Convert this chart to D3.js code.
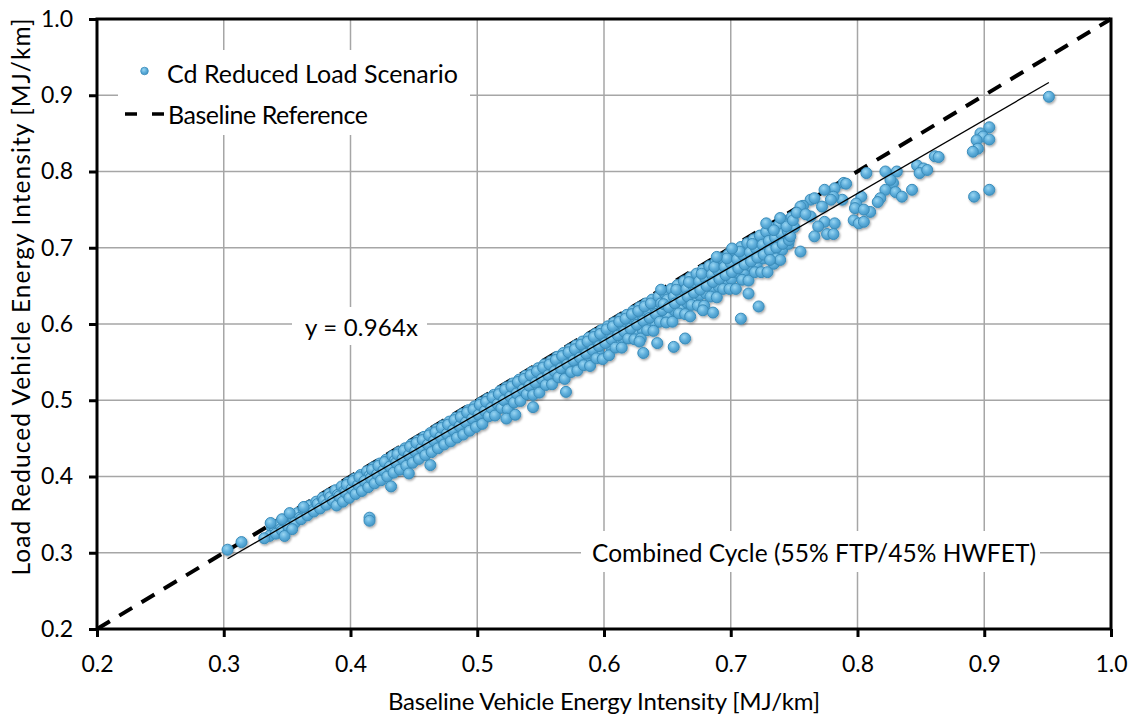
<!DOCTYPE html>
<html><head><meta charset="utf-8">
<script src="https://cdn.jsdelivr.net/npm/d3@7"></script>
<style>body{margin:0;background:#fff}</style>
</head><body>
<svg id="chart" width="1132" height="715"></svg>
<script>
// ---------- data ----------
const xTicks = [0.2,0.3,0.4,0.5,0.6,0.7,0.8,0.9,1.0];
const yTicks = [0.2,0.3,0.4,0.5,0.6,0.7,0.8,0.9,1.0];
const tickLabels = ["0.2","0.3","0.4","0.5","0.6","0.7","0.8","0.9","1.0"];
const fitSlope = 0.964;
const fitRange = [0.303, 0.951];
const baselineRef = [0.2, 1.0];
const seriesName = "Cd Reduced Load Scenario";
const refName = "Baseline Reference";
const fitLabel = "y = 0.964x";
const cycleLabel = "Combined Cycle (55% FTP/45% HWFET)";
const xTitle = "Baseline Vehicle Energy Intensity [MJ/km]";
const yTitle = "Load Reduced Vehicle Energy Intensity [MJ/km]";

// [baseline, reduced]
const bandLow = [
[0.338,0.333],[0.340,0.327],[0.336,0.322],
[0.343,0.337],[0.345,0.331],[0.341,0.325],
[0.348,0.342],[0.350,0.336],[0.346,0.329],
[0.353,0.347],[0.355,0.340],[0.351,0.334],
[0.358,0.352],[0.360,0.346],[0.356,0.339],
[0.363,0.357],[0.365,0.351],[0.361,0.344],[0.364,0.360],
[0.368,0.362],[0.370,0.356],[0.366,0.349],
[0.373,0.367],[0.375,0.361],[0.371,0.354],[0.374,0.364],
[0.378,0.372],[0.380,0.366],[0.376,0.358],[0.379,0.369],
[0.383,0.377],[0.385,0.371],[0.381,0.363],[0.384,0.373],
[0.388,0.382],[0.390,0.376],[0.386,0.368],[0.389,0.362],
[0.393,0.387],[0.395,0.381],[0.391,0.374],[0.394,0.367],
[0.398,0.392],[0.400,0.386],[0.396,0.379],[0.399,0.372],[0.397,0.389]
];
const bandMid = [
[0.403,0.397],[0.405,0.391],[0.401,0.384],[0.404,0.377],[0.402,0.394],
[0.408,0.402],[0.410,0.396],[0.406,0.389],[0.409,0.381],[0.407,0.399],
[0.413,0.407],[0.415,0.401],[0.411,0.394],[0.414,0.386],
[0.418,0.412],[0.420,0.406],[0.416,0.398],[0.419,0.391],[0.417,0.409],
[0.423,0.417],[0.425,0.411],[0.421,0.403],[0.424,0.395],[0.422,0.414],
[0.428,0.422],[0.430,0.416],[0.426,0.408],[0.429,0.400],[0.427,0.419],
[0.433,0.427],[0.435,0.421],[0.431,0.413],[0.434,0.405],
[0.438,0.432],[0.440,0.426],[0.436,0.418],[0.439,0.409],[0.437,0.429],
[0.443,0.437],[0.445,0.431],[0.441,0.423],[0.444,0.414],[0.442,0.434],
[0.448,0.442],[0.450,0.436],[0.446,0.428],[0.449,0.418],[0.447,0.439],
[0.453,0.447],[0.455,0.441],[0.451,0.433],[0.454,0.423],[0.452,0.444],
[0.458,0.452],[0.460,0.445],[0.456,0.437],[0.459,0.428],[0.457,0.448],
[0.463,0.457],[0.465,0.450],[0.461,0.442],[0.464,0.432],[0.462,0.454],
[0.468,0.462],[0.470,0.455],[0.466,0.447],[0.469,0.437],[0.467,0.458],
[0.473,0.467],[0.475,0.460],[0.471,0.452],[0.474,0.442],[0.472,0.464],
[0.478,0.472],[0.480,0.465],[0.476,0.456],[0.479,0.446],[0.477,0.468],
[0.483,0.477],[0.485,0.470],[0.481,0.461],[0.484,0.451],[0.482,0.474],
[0.488,0.482],[0.490,0.475],[0.486,0.466],[0.489,0.455],[0.487,0.478],
[0.493,0.487],[0.495,0.480],[0.491,0.471],[0.494,0.460],[0.492,0.484],
[0.498,0.492],[0.500,0.485],[0.496,0.476],[0.499,0.465],[0.497,0.488]
];
const bandUpper = [
[0.503,0.497],[0.505,0.490],[0.501,0.481],[0.504,0.469],[0.502,0.494],
[0.508,0.502],[0.510,0.495],[0.506,0.486],[0.509,0.479],[0.507,0.498],
[0.513,0.507],[0.515,0.500],[0.511,0.490],[0.514,0.480],[0.512,0.504],
[0.518,0.512],[0.520,0.505],[0.516,0.495],[0.519,0.490],[0.517,0.508],
[0.523,0.517],[0.525,0.510],[0.521,0.500],[0.524,0.488],[0.522,0.514],
[0.528,0.522],[0.530,0.515],[0.526,0.505],[0.529,0.497],[0.527,0.518],
[0.533,0.527],[0.535,0.520],[0.531,0.509],[0.534,0.499],[0.532,0.524],
[0.538,0.532],[0.540,0.524],[0.536,0.514],[0.539,0.508],[0.537,0.528],
[0.543,0.537],[0.545,0.529],[0.541,0.519],[0.544,0.507],[0.542,0.533],
[0.548,0.542],[0.550,0.534],[0.546,0.523],[0.549,0.510],[0.547,0.538],
[0.553,0.547],[0.555,0.539],[0.551,0.528],[0.554,0.520],[0.552,0.543],
[0.558,0.551],[0.560,0.544],[0.556,0.533],[0.559,0.521],[0.557,0.547],
[0.563,0.557],[0.565,0.549],[0.561,0.538],[0.564,0.530],[0.562,0.553],
[0.568,0.562],[0.570,0.554],[0.566,0.542],[0.569,0.528],[0.567,0.558],
[0.573,0.567],[0.575,0.559],[0.571,0.547],[0.574,0.537],[0.572,0.563],
[0.578,0.572],[0.580,0.563],[0.576,0.552],[0.579,0.539],[0.577,0.567],
[0.583,0.577],[0.585,0.568],[0.581,0.556],[0.584,0.546],[0.582,0.573],
[0.588,0.582],[0.590,0.573],[0.586,0.561],[0.589,0.545],[0.587,0.577],
[0.593,0.587],[0.595,0.578],[0.591,0.566],[0.594,0.555],[0.592,0.583],
[0.598,0.592],[0.600,0.583],[0.596,0.571],[0.599,0.554],[0.597,0.587]
];
const fillUpper = [
[0.5055,0.476],[0.5155,0.488],[0.5255,0.493],[0.5355,0.505],[0.5455,0.517],
[0.5555,0.522],[0.5655,0.534],[0.5755,0.546],[0.5855,0.551],[0.5955,0.563]
];
const bandHigh = [
[0.603,0.597],[0.605,0.588],[0.601,0.575],[0.604,0.559],[0.602,0.593],
[0.608,0.602],[0.610,0.593],[0.606,0.580],[0.609,0.569],[0.607,0.597],
[0.613,0.607],[0.615,0.598],[0.611,0.585],[0.614,0.569],[0.612,0.603],
[0.618,0.612],[0.620,0.603],[0.616,0.590],[0.619,0.581],[0.617,0.607],
[0.623,0.617],[0.625,0.608],[0.621,0.594],[0.624,0.580],[0.622,0.613],
[0.628,0.622],[0.630,0.612],[0.626,0.599],[0.629,0.581],[0.627,0.617],
[0.633,0.627],[0.635,0.617],[0.631,0.604],[0.634,0.592],[0.632,0.623],
[0.638,0.632],[0.640,0.622],[0.636,0.608],[0.639,0.591],[0.637,0.627],
[0.643,0.636],[0.645,0.627],[0.641,0.613],[0.644,0.603],
[0.648,0.640],[0.650,0.632],[0.646,0.618],[0.649,0.602],[0.647,0.626],
[0.653,0.646],[0.655,0.636],[0.651,0.622],[0.654,0.603],
[0.658,0.651],[0.660,0.641],[0.656,0.627],[0.659,0.614],[0.657,0.645],
[0.663,0.656],[0.665,0.646],[0.661,0.632],[0.664,0.613],
[0.668,0.661],[0.670,0.651],[0.666,0.636],[0.669,0.625],[0.667,0.655],
[0.673,0.666],[0.675,0.656],[0.671,0.641],[0.674,0.624],
[0.678,0.671],[0.680,0.660],[0.676,0.645],[0.679,0.624],[0.677,0.666],
[0.683,0.676],[0.685,0.665],[0.681,0.650],[0.684,0.636],
[0.688,0.681],[0.690,0.670],[0.686,0.655],[0.689,0.635],[0.687,0.675],
[0.693,0.686],[0.695,0.675],[0.691,0.659],[0.694,0.646],
[0.698,0.691],[0.700,0.680],[0.696,0.664],[0.699,0.646],[0.697,0.686],
[0.703,0.696],[0.705,0.685],[0.701,0.668],[0.704,0.646],
[0.708,0.701],[0.710,0.690],[0.706,0.673],[0.709,0.658],[0.707,0.695],
[0.713,0.706],[0.715,0.694],[0.711,0.678],[0.714,0.657],
[0.718,0.711],[0.720,0.699],[0.716,0.682],[0.719,0.668],[0.717,0.705],
[0.723,0.716],[0.725,0.704],[0.721,0.687],[0.724,0.668],
[0.728,0.721],[0.730,0.709],[0.726,0.691],[0.729,0.668],
[0.733,0.726],[0.735,0.713],[0.731,0.696],[0.734,0.679],
[0.738,0.730],[0.740,0.718],[0.736,0.700],
[0.743,0.735],[0.745,0.722],[0.741,0.705],
[0.748,0.740],[0.750,0.727],[0.746,0.710]
];
const fillHigh = [
[0.6055,0.570],[0.6105,0.572],[0.6155,0.580],[0.6205,0.582],[0.6255,0.590],
[0.6305,0.592],[0.6355,0.599],[0.6405,0.601],[0.6455,0.609],[0.6505,0.611],
[0.6555,0.618],[0.6605,0.620],[0.6655,0.628],[0.6705,0.630],[0.6755,0.638],
[0.6805,0.640],[0.6855,0.647],[0.6905,0.649],[0.6955,0.657],[0.7005,0.659],
[0.7055,0.667],[0.7105,0.668],[0.7155,0.676],[0.7205,0.678],[0.7255,0.686],
[0.7305,0.688],[0.7355,0.695],[0.7405,0.697],[0.7455,0.705]
];
const tailPoints = [
[0.951,0.898],[0.904,0.858],[0.897,0.850],[0.899,0.846],[0.904,0.842],[0.894,0.841],
[0.895,0.830],[0.891,0.826],[0.904,0.776],[0.892,0.767],[0.861,0.820],[0.864,0.819],
[0.847,0.808],[0.852,0.804],[0.849,0.798],[0.855,0.802],[0.843,0.776],[0.831,0.800],
[0.822,0.800],[0.828,0.785],[0.826,0.789],[0.822,0.776],[0.830,0.773],[0.835,0.767],
[0.818,0.765],[0.816,0.760],[0.807,0.798],[0.810,0.747],[0.803,0.767],[0.799,0.758],
[0.798,0.752],[0.805,0.750],[0.797,0.736],[0.801,0.732],[0.805,0.734],[0.789,0.785],
[0.791,0.784],[0.788,0.763],[0.782,0.778],[0.774,0.776],[0.781,0.767],[0.779,0.763],
[0.772,0.754],[0.763,0.763],[0.766,0.765],[0.757,0.755],[0.755,0.754],[0.774,0.734],
[0.782,0.732],[0.769,0.728],[0.766,0.715],[0.776,0.718],[0.781,0.718],[0.763,0.741],
[0.755,0.695],[0.744,0.728],[0.749,0.736],[0.739,0.739],[0.747,0.715],[0.736,0.686],
[0.739,0.684],[0.731,0.684],[0.728,0.732],[0.734,0.723],[0.752,0.746],[0.759,0.744]
];
const outlierPoints = [
[0.303,0.304],[0.314,0.314],[0.332,0.319],[0.337,0.339],[0.348,0.322],[0.354,0.331],
[0.346,0.344],[0.352,0.352],[0.363,0.360],[0.415,0.346],[0.415,0.342],[0.432,0.387],
[0.446,0.404],[0.463,0.415],[0.523,0.476],[0.530,0.481],[0.544,0.491],[0.570,0.511],
[0.631,0.562],[0.628,0.577],[0.642,0.575],[0.655,0.570],[0.664,0.581],[0.668,0.610],
[0.678,0.618],[0.686,0.615],[0.708,0.607],[0.714,0.640],[0.722,0.623],[0.645,0.645],
[0.689,0.688],[0.701,0.699]
];

// ---------- setup ----------
const FONT = "Lato, 'Open Sans', sans-serif";
const svg = d3.select("#chart");
const x = d3.scaleLinear().domain([0.2, 1.0]).range([97, 1111]);
const y = d3.scaleLinear().domain([0.2, 1.0]).range([629, 19]);

const defs = svg.append("defs");
const grad = defs.append("radialGradient").attr("id","dotGrad")
  .attr("cx","40%").attr("cy","35%").attr("r","65%");
grad.append("stop").attr("offset","0%").attr("stop-color","#9ad6f2");
grad.append("stop").attr("offset","55%").attr("stop-color","#5eaedb");
grad.append("stop").attr("offset","100%").attr("stop-color","#4597c6");
const flt = defs.append("filter").attr("id","shadow").attr("x","-20%").attr("y","-20%").attr("width","140%").attr("height","140%");
flt.append("feDropShadow").attr("dx",1).attr("dy",1.5).attr("stdDeviation",1)
  .attr("flood-color","#000").attr("flood-opacity",0.35);

// ---------- gridlines ----------
const grid = svg.append("g");
grid.selectAll("line.vx").data(xTicks.slice(1,-1)).join("line")
  .attr("x1",d=>x(d)).attr("x2",d=>x(d)).attr("y1",y(1.0)).attr("y2",y(0.2))
  .attr("stroke","#a6a6a6").attr("stroke-width",1.5);
grid.selectAll("line.hy").data(yTicks.slice(1,-1)).join("line")
  .attr("y1",d=>y(d)).attr("y2",d=>y(d)).attr("x1",x(0.2)).attr("x2",x(1.0))
  .attr("stroke","#a6a6a6").attr("stroke-width",1.5);

// ---------- white label boxes ----------
svg.append("rect").attr("x",118).attr("y",50).attr("width",352).attr("height",85).attr("fill","#fff");
svg.append("rect").attr("x",292).attr("y",307).attr("width",135).attr("height",38).attr("fill","#fff");
svg.append("rect").attr("x",581).attr("y",531).attr("width",459).attr("height",41).attr("fill","#fff");

// ---------- baseline reference (dashed) ----------
svg.append("line")
  .attr("x1",x(baselineRef[0])).attr("y1",y(baselineRef[0]))
  .attr("x2",x(baselineRef[1])).attr("y2",y(baselineRef[1]))
  .attr("stroke","#000").attr("stroke-width",4).attr("stroke-dasharray","15,11");

// ---------- points ----------
const allPoints = [].concat(bandLow, bandMid, fillUpper, bandUpper, fillHigh, bandHigh, tailPoints, outlierPoints);
svg.append("g").attr("filter","url(#shadow)")
  .selectAll("circle").data(allPoints).join("circle")
  .attr("cx",d=>x(d[0])).attr("cy",d=>y(d[1])).attr("r",5.5)
  .attr("fill","url(#dotGrad)").attr("stroke","#3a8cba").attr("stroke-width",1);

// ---------- fit line ----------
svg.append("line")
  .attr("x1",x(fitRange[0])).attr("y1",y(fitSlope*fitRange[0]))
  .attr("x2",x(fitRange[1])).attr("y2",y(fitSlope*fitRange[1]))
  .attr("stroke","#000").attr("stroke-width",1.3);

// ---------- axes ----------
const fmt = (d,i)=>tickLabels[i];
const xAxis = svg.append("g").attr("transform",`translate(0,${y(0.2)})`)
  .call(d3.axisBottom(x).tickValues(xTicks).tickFormat(fmt).tickSize(8).tickPadding(19));
const yAxis = svg.append("g").attr("transform",`translate(${x(0.2)},0)`)
  .call(d3.axisLeft(y).tickValues(yTicks).tickFormat(fmt).tickSize(8).tickPadding(16));
[xAxis,yAxis].forEach(a=>{
  a.select(".domain").remove();
  a.selectAll(".tick line").attr("stroke","#000").attr("stroke-width",3);
  a.selectAll(".tick text").attr("font-family",FONT).attr("font-size",23).attr("fill","#000");
});
// frame
svg.append("rect").attr("x",x(0.2)).attr("y",y(1.0)).attr("width",x(1.0)-x(0.2)).attr("height",y(0.2)-y(1.0))
  .attr("fill","none").attr("stroke","#000").attr("stroke-width",3);

// ---------- titles ----------
svg.append("text").attr("x",604).attr("y",710).attr("text-anchor","middle")
  .attr("font-family",FONT).attr("font-size",24).attr("textLength",432).attr("lengthAdjust","spacing").text(xTitle);
svg.append("text").attr("transform","translate(30,297) rotate(-90)").attr("text-anchor","middle")
  .attr("font-family",FONT).attr("font-size",24.5).attr("textLength",557).attr("lengthAdjust","spacing").text(yTitle);

// ---------- annotations ----------
svg.append("text").attr("x",361.5).attr("y",336).attr("text-anchor","middle")
  .attr("font-family",FONT).attr("font-size",24).attr("textLength",113).attr("lengthAdjust","spacing").text(fitLabel);
svg.append("text").attr("x",814).attr("y",562).attr("text-anchor","middle")
  .attr("font-family",FONT).attr("font-size",24.5).attr("textLength",444).attr("lengthAdjust","spacing").text(cycleLabel);

// ---------- legend ----------
svg.append("circle").attr("cx",144.5).attr("cy",71).attr("r",3.8)
  .attr("fill","url(#dotGrad)").attr("stroke","#3a8cba").attr("stroke-width",0.8);
svg.append("text").attr("x",167).attr("y",83).attr("font-family",FONT).attr("font-size",25)
  .attr("textLength",291).attr("lengthAdjust","spacing").text(seriesName);
svg.append("line").attr("x1",125).attr("x2",165).attr("y1",114).attr("y2",114)
  .attr("stroke","#000").attr("stroke-width",3.5).attr("stroke-dasharray","12,15");
svg.append("text").attr("x",168).attr("y",124).attr("font-family",FONT).attr("font-size",25)
  .attr("textLength",200).attr("lengthAdjust","spacing").text(refName);
</script>
</body></html>
